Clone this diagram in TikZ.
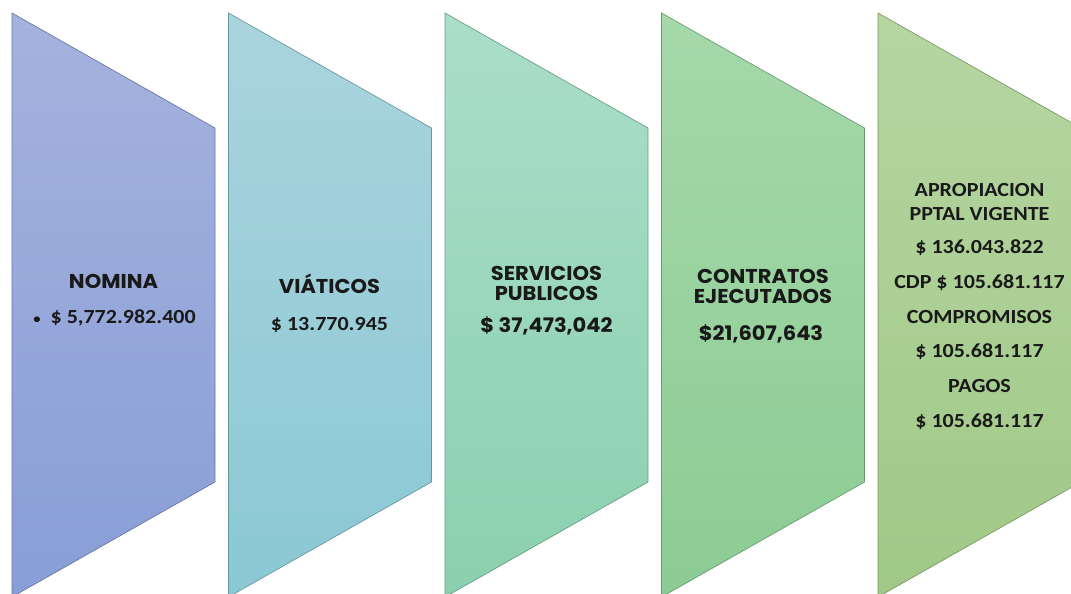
\documentclass[tikz,border=0pt]{standalone}
\usepackage{fontspec}
\newfontfamily\gothic{Poppins}[FakeStretch=1.05]
\newfontfamily\calib{Carlito}[FakeStretch=1.1]

\definecolor{nomT}{RGB}{165,178,222}
\definecolor{nomB}{RGB}{136,158,214}
\definecolor{viaT}{RGB}{170,212,222}
\definecolor{viaB}{RGB}{138,200,212}
\definecolor{serT}{RGB}{170,222,202}
\definecolor{serB}{RGB}{138,208,174}
\definecolor{conT}{RGB}{166,216,170}
\definecolor{conB}{RGB}{140,204,148}
\definecolor{apoT}{RGB}{182,214,162}
\definecolor{apoB}{RGB}{160,200,134}

\tikzset{
  head/.style={font=\gothic\bfseries\fontsize{15}{18}\selectfont, anchor=base, inner sep=0pt, text=black!90},
  amount/.style={font=\calib\bfseries\fontsize{15}{18}\selectfont, anchor=base, inner sep=0pt, text=black!90},
}

\begin{document}
\begin{tikzpicture}[x=0.75pt,y=-0.75pt]
    \useasboundingbox (0,0) rectangle (1071,593);
    \clip (0,0) rectangle (1071,593);
    % chevrons
    \foreach \i/\ct/\cb in {0/nomT/nomB, 1/viaT/viaB, 2/serT/serB, 3/conT/conB, 4/apoT/apoB}{
        \shade[top color=\ct, bottom color=\cb, draw=\cb!75!black, line width=0.5pt]
            (12+216.5*\i,13) -- ++(203,115) -- ++(0,354) -- ++(-203,115) -- cycle;
    }
    % nomina
    \node[head] (nomina) at (113.5,288) {NOMINA};
    \node[amount] (nominaval) at (114.5,323) {{\fontsize{10}{10}\selectfont\textbullet}\hspace{0.5em}\$ 5,772.982.400};
    % viaticos
    \node[head] (viaticos) at (329.5,293) {VIÁTICOS};
    \node[amount] (viaticosval) at (329.5,330) {\$ 13.770.945};
    % servicios
    \node[head] (serv1) at (546.5,280) {SERVICIOS};
    \node[head] (serv2) at (546.5,300) {PUBLICOS};
    \node[head] (servval) at (546.5,332) {\$ 37,473,042};
    % contratos
    \node[head] (cont1) at (763,283) {CONTRATOS};
    \node[head] (cont2) at (763,303) {EJECUTADOS};
    \node[head] (contval) at (761,340) {\$21,607,643};
    % presupuesto
    \foreach \y/\t [count=\n] in {196/APROPIACION, 220/PPTAL VIGENTE, 253/{\$ 136.043.822},
        288/{CDP \$ 105.681.117}, 323/COMPROMISOS, 357/{\$ 105.681.117}, 392/PAGOS, 427/{\$ 105.681.117}}{
        \node[amount] (pres\n) at (979.5,\y) {\t};
    }
\end{tikzpicture}
\end{document}
